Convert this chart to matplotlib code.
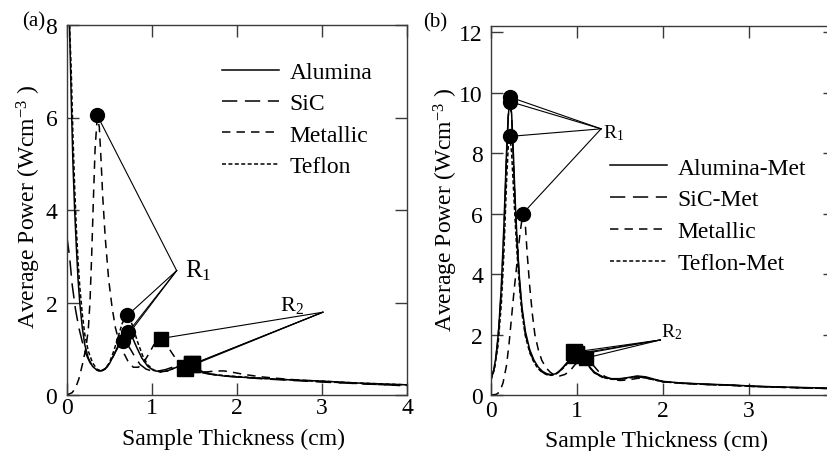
import matplotlib
matplotlib.use("Agg")
import matplotlib.pyplot as plt

plt.rcParams['font.family'] = ['Liberation Serif', 'DejaVu Serif']
plt.rcParams['mathtext.fontset'] = 'custom'
plt.rcParams['mathtext.rm'] = 'Liberation Serif'
plt.rcParams['mathtext.it'] = 'Liberation Serif:italic'

# ---------------- panel (a) data ----------------
a_alu_x = [0.03,0.05,0.07,0.09,0.11,0.13,0.15,0.18,0.21,0.25,0.30,0.35,0.40,0.45,0.50,0.55,0.60,0.65,0.70,0.73,
           0.77,0.82,0.88,0.95,1.02,1.10,1.18,1.26,1.34,1.42,1.50,1.60,1.70,1.85,2.00,2.30,2.60,3.00,3.40,3.70,4.00]
a_alu_y = [8.0,6.4,5.0,4.0,3.2,2.5,2.0,1.45,1.08,0.8,0.62,0.54,0.52,0.57,0.68,0.86,1.06,1.25,1.36,1.35,
           1.24,1.03,0.8,0.62,0.53,0.5,0.52,0.58,0.63,0.63,0.57,0.49,0.45,0.41,0.39,0.36,0.33,0.3,0.26,0.24,0.22]
a_sic_x = [0.00,0.03,0.06,0.10,0.14,0.18,0.22,0.27,0.32,0.37,0.42,0.47,0.52,0.57,0.62,0.66,0.70,0.75,0.80,0.86,
           0.93,1.00,1.08,1.16,1.24,1.32,1.38,1.45,1.55,1.65,1.80,2.00,2.30,2.60,3.00,3.50,4.00]
a_sic_y = [3.4,3.0,2.4,1.85,1.45,1.15,0.9,0.7,0.58,0.52,0.53,0.6,0.75,0.93,1.1,1.17,1.12,0.98,0.82,0.66,
           0.56,0.52,0.52,0.55,0.6,0.63,0.63,0.58,0.5,0.46,0.42,0.39,0.35,0.32,0.28,0.24,0.2]
a_met_x = [0.00,0.06,0.10,0.14,0.18,0.22,0.25,0.27,0.29,0.31,0.33,0.355,0.38,0.40,0.42,0.45,0.49,0.53,0.57,0.62,
           0.67,0.72,0.78,0.84,0.90,0.96,1.02,1.08,1.12,1.17,1.23,1.29,1.36,1.45,1.55,1.65,1.75,1.85,1.95,2.10,
           2.30,2.60,3.00,3.50,4.00]
a_met_y = [0.0,0.05,0.15,0.35,0.65,1.0,1.4,2.0,3.0,4.2,5.3,6.0,5.8,5.1,4.3,3.4,2.5,1.9,1.45,1.1,
           0.9,0.72,0.6,0.6,0.7,0.88,1.08,1.2,1.2,1.1,0.92,0.76,0.62,0.53,0.5,0.5,0.52,0.52,0.49,0.44,
           0.39,0.34,0.29,0.24,0.2]
a_tef_x = [0.03,0.05,0.07,0.09,0.11,0.13,0.15,0.18,0.21,0.25,0.30,0.35,0.40,0.45,0.50,0.55,0.60,0.65,0.70,0.74,
           0.78,0.83,0.89,0.95,1.02,1.10,1.18,1.26,1.34,1.42,1.50,1.60,1.70,1.85,2.00,2.30,2.60,3.00,3.40,3.70,4.00]
a_tef_y = [8.0,7.0,5.6,4.5,3.6,2.9,2.35,1.75,1.3,0.95,0.7,0.56,0.52,0.56,0.7,0.95,1.25,1.55,1.72,1.66,
           1.45,1.15,0.85,0.65,0.54,0.5,0.52,0.58,0.64,0.66,0.6,0.5,0.45,0.42,0.4,0.36,0.33,0.3,0.26,0.24,0.22]
# R1 (circles) and R2 (squares) points, order: Alumina, SiC, Metallic, Teflon
a_r1_x = [0.72, 0.66, 0.355, 0.71]
a_r1_y = [1.36, 1.16, 6.05, 1.72]
a_r2_x = [1.47, 1.39, 1.10, 1.47]
a_r2_y = [0.66, 0.58, 1.22, 0.66]
a_r1_vertex = (1.29, 2.69)
a_r2_vertex = (3.01, 1.79)
a_labels = ['Alumina', 'SiC', 'Metallic', 'Teflon']

# ---------------- panel (b) data ----------------
b_alu_x = [0.00,0.03,0.06,0.09,0.12,0.15,0.18,0.20,0.22,0.24,0.26,0.28,0.30,0.33,0.36,0.40,0.45,0.50,0.55,0.60,
           0.65,0.70,0.75,0.80,0.85,0.90,0.95,1.00,1.05,1.10,1.15,1.20,1.30,1.40,1.50,1.60,1.70,1.80,1.90,2.00,
           2.20,2.50,2.80,3.00,3.30,3.60,4.00]
b_alu_y = [0.6,0.8,1.3,2.2,3.6,5.6,8.0,9.2,9.8,9.3,8.0,6.5,5.3,3.9,2.9,2.1,1.5,1.15,0.92,0.78,
           0.7,0.67,0.7,0.8,0.95,1.12,1.28,1.36,1.3,1.12,0.92,0.76,0.6,0.54,0.54,0.58,0.63,0.6,0.52,0.45,
           0.4,0.36,0.33,0.3,0.27,0.25,0.22]
b_sic_x = [0.00,0.04,0.08,0.12,0.15,0.18,0.20,0.22,0.24,0.26,0.28,0.30,0.33,0.36,0.40,0.45,0.50,0.55,0.60,0.65,
           0.70,0.75,0.80,0.85,0.90,0.95,1.00,1.05,1.10,1.15,1.20,1.30,1.40,1.50,1.60,1.70,1.80,1.90,2.00,2.20,
           2.50,2.80,3.00,3.30,3.60,4.00]
b_sic_y = [0.5,0.9,1.8,3.4,5.3,7.8,9.2,9.7,9.2,7.8,6.4,5.2,3.8,2.8,2.0,1.45,1.1,0.88,0.75,0.68,
           0.66,0.7,0.8,0.95,1.12,1.27,1.34,1.28,1.1,0.9,0.74,0.58,0.52,0.52,0.56,0.6,0.57,0.5,0.44,0.39,
           0.35,0.32,0.29,0.26,0.24,0.21]
b_met_x = [0.00,0.06,0.10,0.14,0.18,0.21,0.24,0.27,0.30,0.32,0.34,0.37,0.40,0.42,0.45,0.48,0.51,0.55,0.59,0.64,
           0.69,0.74,0.80,0.86,0.92,0.97,1.02,1.06,1.10,1.14,1.19,1.25,1.32,1.40,1.50,1.60,1.70,1.80,1.90,2.00,
           2.20,2.50,2.80,3.00,3.30,3.60,4.00]
b_met_y = [0.0,0.02,0.1,0.4,0.97,1.7,2.6,3.5,4.3,4.9,5.4,6.0,5.6,4.7,3.6,2.7,2.0,1.5,1.15,0.9,
           0.75,0.65,0.63,0.68,0.8,0.98,1.12,1.2,1.22,1.15,0.98,0.78,0.62,0.52,0.48,0.5,0.55,0.56,0.5,0.44,
           0.39,0.35,0.32,0.29,0.26,0.24,0.21]
b_tef_x = [0.00,0.04,0.08,0.12,0.15,0.18,0.20,0.22,0.24,0.26,0.28,0.30,0.33,0.36,0.40,0.45,0.50,0.55,0.60,0.65,
           0.70,0.75,0.80,0.85,0.90,0.95,1.00,1.05,1.10,1.15,1.20,1.30,1.40,1.50,1.60,1.70,1.80,1.90,2.00,2.20,
           2.50,2.80,3.00,3.30,3.60,4.00]
b_tef_y = [0.5,0.85,1.6,3.0,4.7,7.0,8.2,8.55,8.0,6.9,5.8,4.8,3.6,2.7,1.95,1.4,1.08,0.86,0.74,0.67,
           0.65,0.68,0.78,0.92,1.08,1.22,1.3,1.26,1.1,0.9,0.74,0.58,0.52,0.52,0.56,0.6,0.57,0.5,0.44,0.39,
           0.35,0.32,0.29,0.26,0.24,0.21]
b_r1_x = [0.22, 0.22, 0.37, 0.22]
b_r1_y = [9.85, 9.70, 6.00, 8.55]
b_r2_x = [0.97, 0.99, 1.10, 0.99]
b_r2_y = [1.42, 1.36, 1.22, 1.32]
b_r1_vertex = (1.28, 8.8)
b_r2_vertex = (1.97, 1.82)
b_labels = ['Alumina-Met', 'SiC-Met', 'Metallic', 'Teflon-Met']

styles = ['-', (0, (10, 5)), (0, (5.5, 4)), (0, (2.6, 1.6))]
LW = 1.1
FS = 17

fig = plt.figure(figsize=(8.27, 4.52), dpi=100)
W, H = 827, 452

def px_axes(x0, x1, ytop, ybot):
    return fig.add_axes([x0 / W, 1 - ybot / H, (x1 - x0) / W, (ybot - ytop) / H])

axa = px_axes(67, 407, 26, 396)
axb = px_axes(491, 835, 27, 396)

def style_axes(ax, xpad, ypad):
    for s in ax.spines.values():
        s.set_color('#3a3a3a')
        s.set_linewidth(1.0)
    ax.tick_params(direction='in', length=8.5, width=1.0, color='#3a3a3a',
                   top=True, right=True, labelsize=FS)
    ax.tick_params(axis='x', pad=xpad)
    ax.tick_params(axis='y', pad=ypad)

# ---- panel a ----
series_a = [(a_alu_x, a_alu_y), (a_sic_x, a_sic_y), (a_met_x, a_met_y), (a_tef_x, a_tef_y)]
handles = []
for (xs, ys), ls, lab in zip(series_a, styles, a_labels):
    h, = axa.plot(xs, ys, color='black', lw=LW, linestyle=ls, label=lab)
    handles.append(h)
for px, py in zip(a_r1_x, a_r1_y):
    axa.plot([a_r1_vertex[0], px], [a_r1_vertex[1], py], color='black', lw=0.8)
for px, py in zip(a_r2_x, a_r2_y):
    axa.plot([a_r2_vertex[0], px], [a_r2_vertex[1], py], color='black', lw=0.8)
axa.plot(a_r1_x, a_r1_y, 'o', color='black', ms=10, zorder=5)
sq_sizes_a = [11.5, 11.5, 10, 11.5]
for px, py, ms in zip(a_r2_x, a_r2_y, sq_sizes_a):
    axa.plot(px, py, 's', color='black', ms=ms, zorder=5)
axa.text(1.39, 2.7, r'R$_1$', fontsize=18, ha='left', va='center')
axa.text(2.5, 1.95, r'R$_2$', fontsize=16, ha='left', va='center')
axa.set_xlim(0, 4)
axa.set_ylim(0, 8)
axa.set_xticks([0, 1, 2, 3, 4])
axa.set_yticks([0, 2, 4, 6, 8])
style_axes(axa, 1.5, 7)
axa.set_xlabel('Sample Thickness (cm)', fontsize=FS)
axa.set_ylabel(r'Average Power (Wcm$^{\mathregular{-3}}$ )', fontsize=FS)
axa.xaxis.set_label_coords(0.49, -0.09)
axa.yaxis.set_label_coords(-0.07, 0.51)
axa.legend(handles, a_labels, loc='upper left', bbox_to_anchor=(0.456, 0.902),
           frameon=False, fontsize=FS, handlelength=2.4, handletextpad=0.45,
           labelspacing=0.42, borderpad=0, borderaxespad=0)

# ---- panel b ----
series_b = [(b_alu_x, b_alu_y), (b_sic_x, b_sic_y), (b_met_x, b_met_y), (b_tef_x, b_tef_y)]
handles = []
for (xs, ys), ls, lab in zip(series_b, styles, b_labels):
    h, = axb.plot(xs, ys, color='black', lw=LW, linestyle=ls, label=lab)
    handles.append(h)
for px, py in zip(b_r1_x, b_r1_y):
    axb.plot([b_r1_vertex[0], px], [b_r1_vertex[1], py], color='black', lw=0.8)
for px, py in zip(b_r2_x, b_r2_y):
    axb.plot([b_r2_vertex[0], px], [b_r2_vertex[1], py], color='black', lw=0.8)
axb.plot(b_r1_x, b_r1_y, 'o', color='black', ms=10, zorder=5)
sq_sizes_b = [11.5, 11, 10, 11]
for px, py, ms in zip(b_r2_x, b_r2_y, sq_sizes_b):
    axb.plot(px, py, 's', color='black', ms=ms, zorder=5)
axb.text(1.30, 8.7, r'R$_1$', fontsize=14, ha='left', va='center')
axb.text(1.98, 2.1, r'R$_2$', fontsize=14, ha='left', va='center')
axb.set_xlim(0, 4)
axb.set_ylim(0, 12.2)
axb.set_xticks([0, 1, 2, 3, 4])
axb.set_yticks([0, 2, 4, 6, 8, 10, 12])
style_axes(axb, 3.5, 5.8)
axb.set_xlabel('Sample Thickness (cm)', fontsize=FS)
axb.set_ylabel(r'Average Power (Wcm$^{\mathregular{-3}}$ )', fontsize=FS)
axb.xaxis.set_label_coords(0.482, -0.095)
axb.yaxis.set_label_coords(-0.09, 0.505)
axb.legend(handles, b_labels, loc='upper left', bbox_to_anchor=(0.346, 0.645),
           frameon=False, fontsize=FS, handlelength=2.4, handletextpad=0.45,
           labelspacing=0.44, borderpad=0, borderaxespad=0)

fig.text(22 / W, 1 - 12 / H, '(a)', fontsize=15, ha='left', va='top')
fig.text(423 / W, 1 - 13 / H, '(b)', fontsize=15, ha='left', va='top')

fig.savefig('out.png', dpi=100)
